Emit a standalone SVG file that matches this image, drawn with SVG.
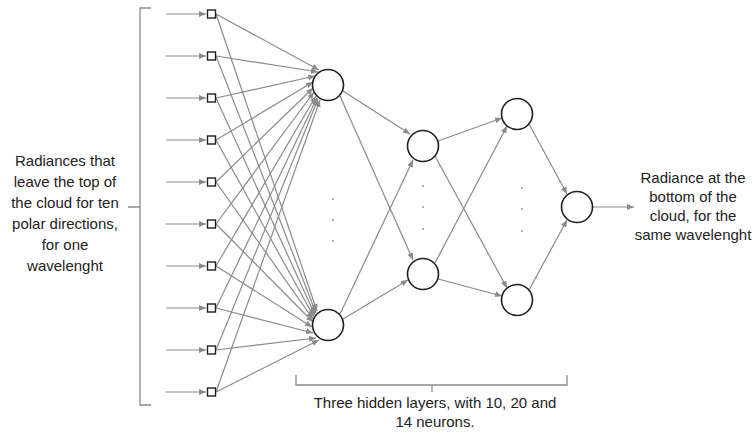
<svg xmlns="http://www.w3.org/2000/svg" width="756" height="434" viewBox="0 0 756 434">
  <defs>
    <marker id="arrow" markerUnits="userSpaceOnUse" markerWidth="8" markerHeight="6" refX="7" refY="3" orient="auto">
      <path d="M0,0 L7,3 L0,6 z" fill="#8a8a8a"/>
    </marker>
  </defs>
  <style>
    .wire { stroke: #8a8a8a; stroke-width: 1.2; fill: none; marker-end: url(#arrow); }
    .brace { stroke: #8a8a8a; stroke-width: 1.3; fill: none; }
    .neuron { fill: #ffffff; stroke: #1e1e1e; stroke-width: 1.6; }
    .input { fill: #ffffff; stroke: #1e1e1e; stroke-width: 1.4; }
    .dot { fill: #9a9a9a; }
    .label { font-family: "Liberation Sans", Arial, sans-serif; font-size: 15px; fill: #222; text-anchor: middle; }
  </style>
  <rect width="756" height="434" fill="#ffffff"/>

  <!-- braces -->
  <g id="brace-inputs">
    <path class="brace" d="M151,8 H140 V405 H151 M140,207 H128"/>
  </g>
  <g id="brace-hidden">
    <path class="brace" d="M296,375 V385 H567 V375 M432,385 V392"/>
  </g>

  <!-- connectors -->
  <g id="connectors">
    <!-- incoming radiances -->
    <line class="wire" x1="166" y1="14" x2="206" y2="14"/>
    <line class="wire" x1="166" y1="56" x2="206" y2="56"/>
    <line class="wire" x1="166" y1="98" x2="206" y2="98"/>
    <line class="wire" x1="166" y1="140" x2="206" y2="140"/>
    <line class="wire" x1="166" y1="182" x2="206" y2="182"/>
    <line class="wire" x1="166" y1="224" x2="206" y2="224"/>
    <line class="wire" x1="166" y1="266" x2="206" y2="266"/>
    <line class="wire" x1="166" y1="308" x2="206" y2="308"/>
    <line class="wire" x1="166" y1="350" x2="206" y2="350"/>
    <line class="wire" x1="166" y1="392" x2="206" y2="392"/>

    <!-- inputs to upper first-layer neuron -->
    <line class="wire" x1="216" y1="14" x2="319" y2="70"/>
    <line class="wire" x1="216" y1="56" x2="318" y2="72"/>
    <line class="wire" x1="216" y1="98" x2="315" y2="76"/>
    <line class="wire" x1="216" y1="140" x2="313" y2="82"/>
    <line class="wire" x1="216" y1="182" x2="313" y2="88"/>
    <line class="wire" x1="216" y1="224" x2="314" y2="92"/>
    <line class="wire" x1="216" y1="266" x2="316" y2="96"/>
    <line class="wire" x1="216" y1="308" x2="317" y2="98"/>
    <line class="wire" x1="216" y1="350" x2="318" y2="99"/>
    <line class="wire" x1="216" y1="392" x2="320" y2="100"/>

    <!-- inputs to lower first-layer neuron -->
    <line class="wire" x1="216" y1="14" x2="317" y2="311"/>
    <line class="wire" x1="216" y1="56" x2="316" y2="313"/>
    <line class="wire" x1="216" y1="98" x2="315" y2="315"/>
    <line class="wire" x1="216" y1="140" x2="314" y2="317"/>
    <line class="wire" x1="216" y1="182" x2="313" y2="319"/>
    <line class="wire" x1="216" y1="224" x2="313" y2="322"/>
    <line class="wire" x1="216" y1="266" x2="312" y2="327"/>
    <line class="wire" x1="216" y1="308" x2="313" y2="333"/>
    <line class="wire" x1="216" y1="350" x2="316" y2="338"/>
    <line class="wire" x1="216" y1="392" x2="319" y2="340"/>

    <!-- first hidden layer to second -->
    <line class="wire" x1="343" y1="91" x2="410" y2="134"/>
    <line class="wire" x1="340" y1="96" x2="413" y2="260"/>
    <line class="wire" x1="340" y1="314" x2="413" y2="160"/>
    <line class="wire" x1="343" y1="319" x2="408" y2="280"/>

    <!-- second hidden layer to third -->
    <line class="wire" x1="438" y1="141" x2="502" y2="118"/>
    <line class="wire" x1="435" y1="156" x2="507" y2="288"/>
    <line class="wire" x1="435" y1="263" x2="507" y2="126"/>
    <line class="wire" x1="438" y1="279" x2="502" y2="296"/>

    <!-- third hidden layer to output -->
    <line class="wire" x1="529" y1="124" x2="567" y2="194"/>
    <line class="wire" x1="529" y1="290" x2="567" y2="220"/>

    <!-- output radiance -->
    <line class="wire" x1="593" y1="207" x2="634" y2="207"/>
  </g>

  <!-- input squares -->
  <g id="inputs">
    <rect class="input" x="207.5" y="10" width="8" height="8"/>
    <rect class="input" x="207.5" y="52" width="8" height="8"/>
    <rect class="input" x="207.5" y="94" width="8" height="8"/>
    <rect class="input" x="207.5" y="136" width="8" height="8"/>
    <rect class="input" x="207.5" y="178" width="8" height="8"/>
    <rect class="input" x="207.5" y="220" width="8" height="8"/>
    <rect class="input" x="207.5" y="262" width="8" height="8"/>
    <rect class="input" x="207.5" y="304" width="8" height="8"/>
    <rect class="input" x="207.5" y="346" width="8" height="8"/>
    <rect class="input" x="207.5" y="388" width="8" height="8"/>
  </g>

  <!-- hidden layer 1 -->
  <g id="hidden1">
    <circle class="neuron" cx="328" cy="85" r="15.5"/>
    <circle class="neuron" cx="328" cy="325" r="15.5"/>
    <circle class="dot" cx="333" cy="199" r="1"/>
    <circle class="dot" cx="333" cy="220" r="1"/>
    <circle class="dot" cx="333" cy="241" r="1"/>
  </g>

  <!-- hidden layer 2 -->
  <g id="hidden2">
    <circle class="neuron" cx="423" cy="146" r="15.5"/>
    <circle class="neuron" cx="423" cy="274" r="15.5"/>
    <circle class="dot" cx="423" cy="186" r="1"/>
    <circle class="dot" cx="423" cy="207" r="1"/>
    <circle class="dot" cx="423" cy="229" r="1"/>
  </g>

  <!-- hidden layer 3 -->
  <g id="hidden3">
    <circle class="neuron" cx="517" cy="114" r="15.5"/>
    <circle class="neuron" cx="517" cy="300" r="15.5"/>
    <circle class="dot" cx="522" cy="188" r="1"/>
    <circle class="dot" cx="522" cy="209" r="1"/>
    <circle class="dot" cx="522" cy="231" r="1"/>
  </g>

  <!-- output neuron -->
  <g id="output">
    <circle class="neuron" cx="577" cy="207" r="15.5"/>
  </g>

  <!-- labels -->
  <g id="label-inputs">
    <text class="label" x="65" y="166">Radiances that</text>
    <text class="label" x="65" y="187">leave the top of</text>
    <text class="label" x="65" y="208">the cloud for ten</text>
    <text class="label" x="65" y="229">polar directions,</text>
    <text class="label" x="65" y="250">for one</text>
    <text class="label" x="65" y="271">wavelenght</text>
  </g>
  <g id="label-output">
    <text class="label" x="693" y="183">Radiance at the</text>
    <text class="label" x="693" y="202">bottom of the</text>
    <text class="label" x="693" y="221">cloud, for the</text>
    <text class="label" x="693" y="240">same wavelenght</text>
  </g>
  <g id="label-hidden">
    <text class="label" x="435" y="408">Three hidden layers, with 10, 20 and</text>
    <text class="label" x="435" y="427">14 neurons.</text>
  </g>
</svg>
